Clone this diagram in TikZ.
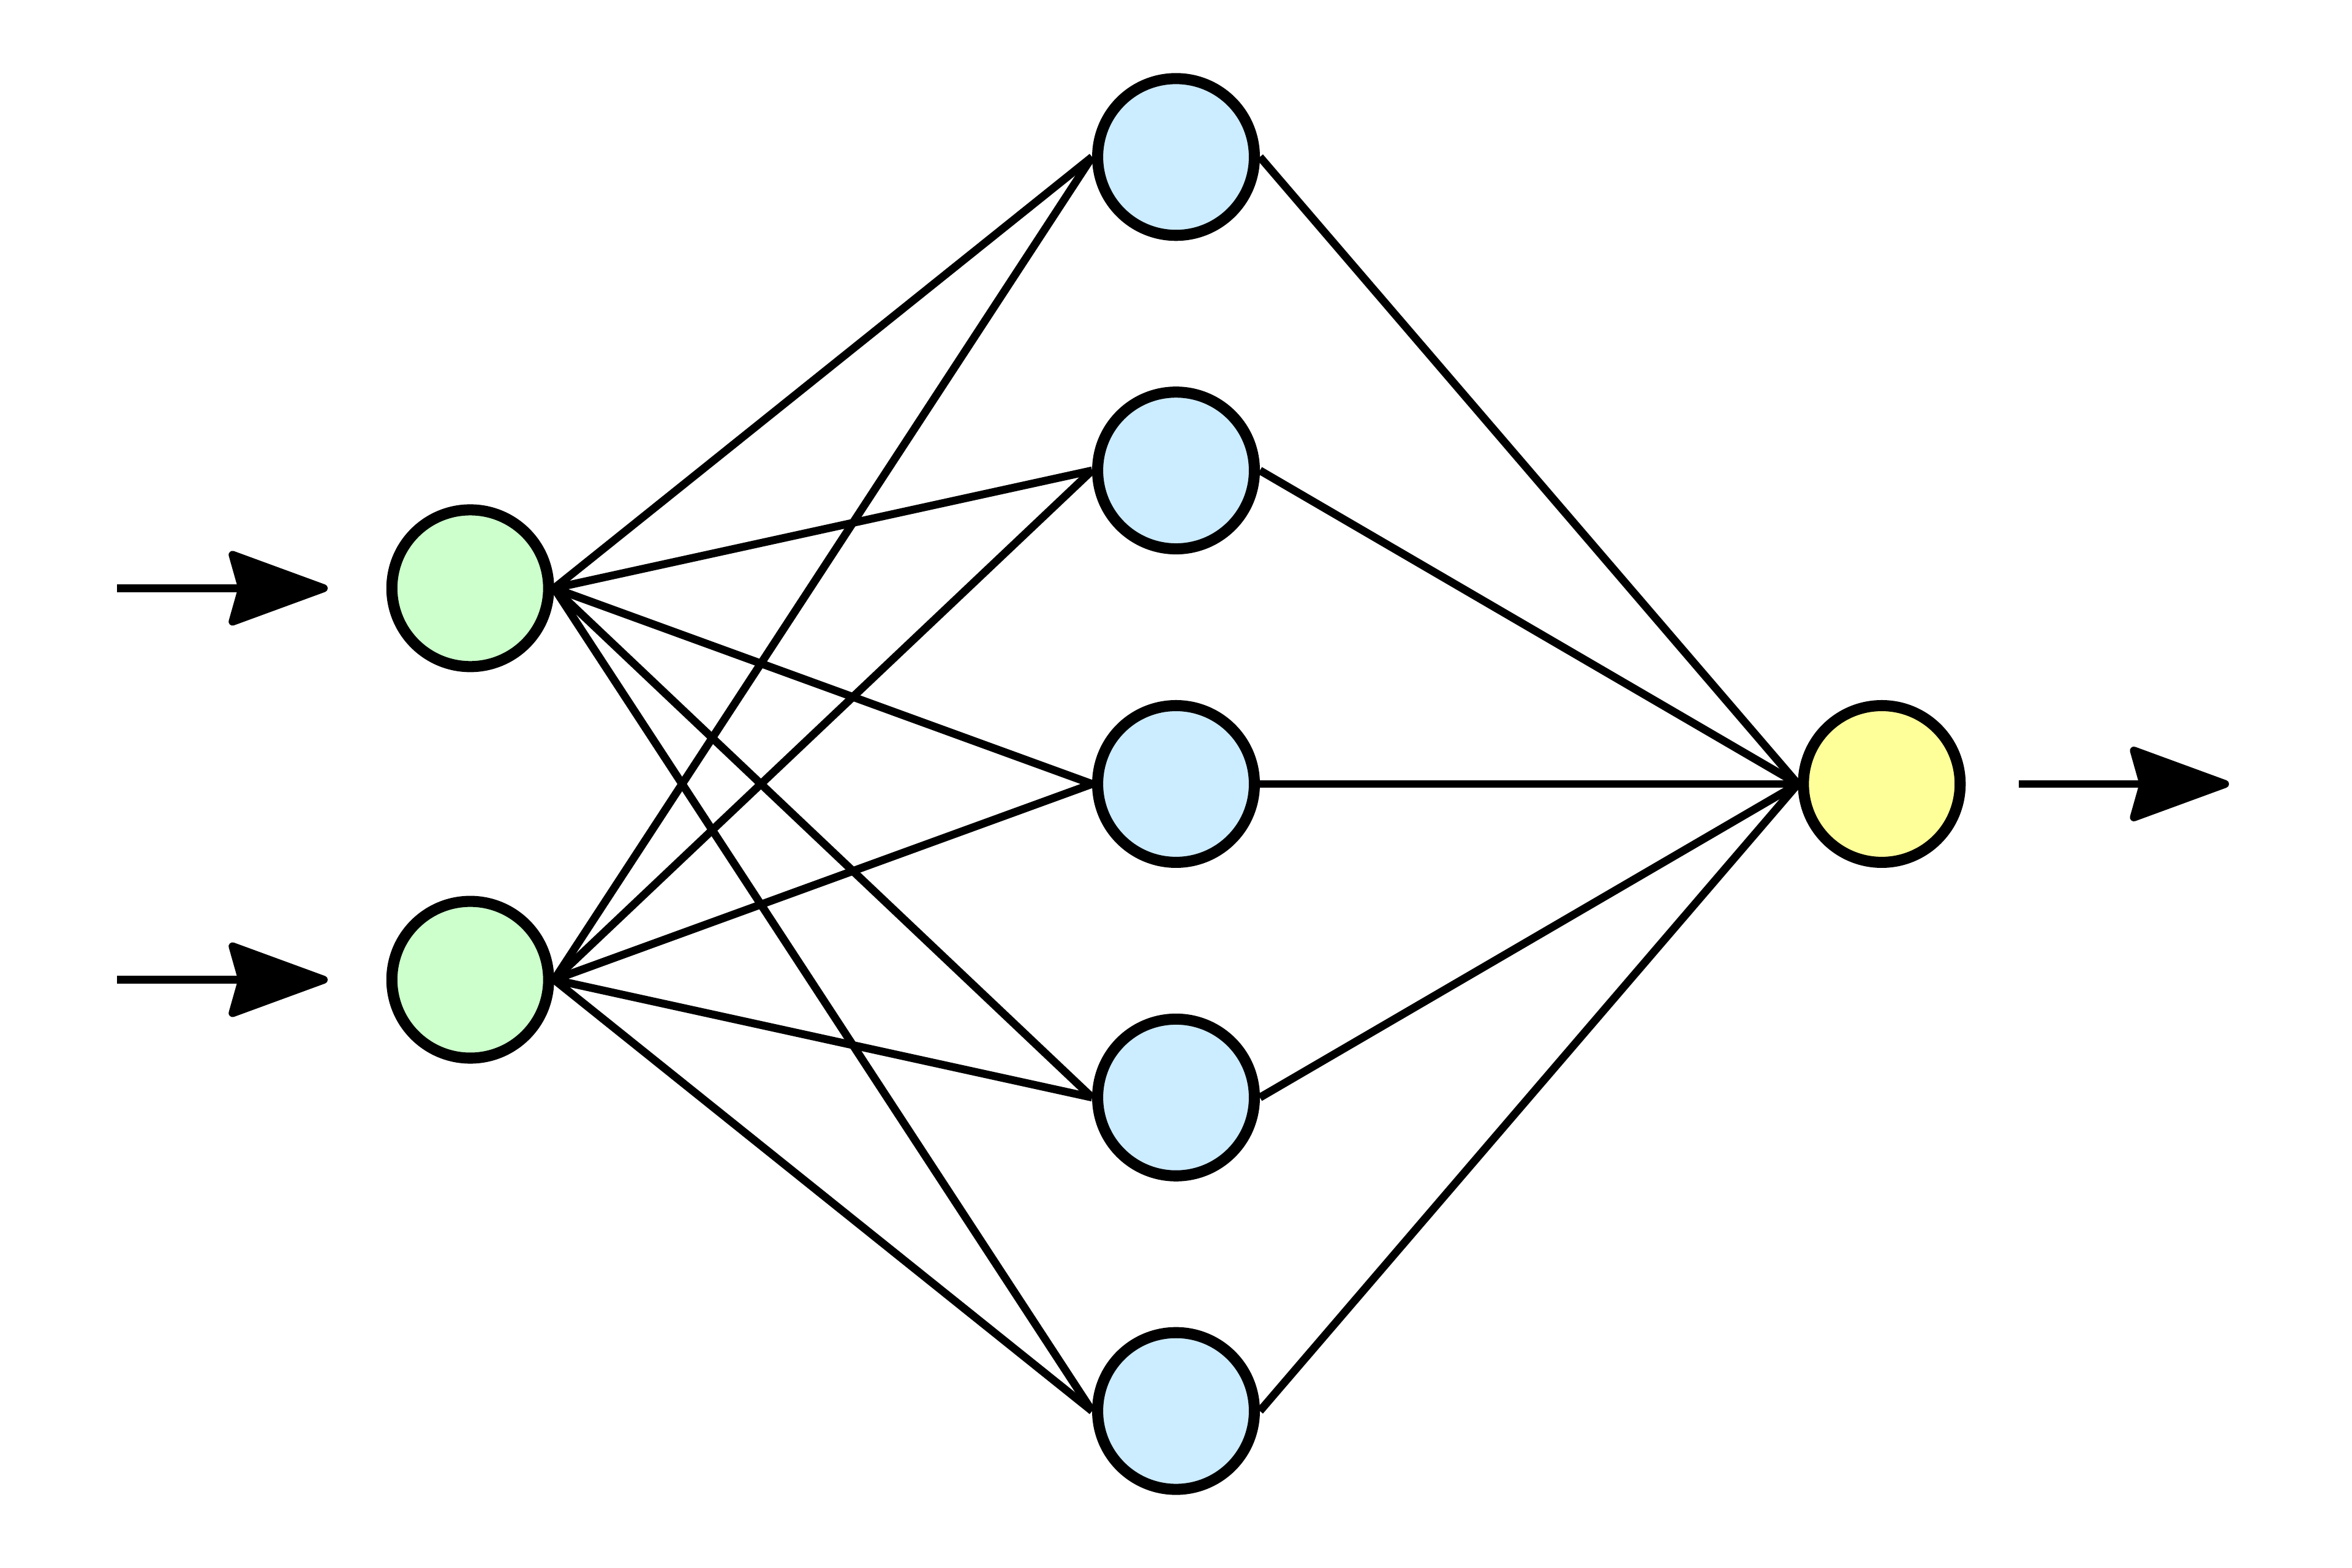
\documentclass[tikz,border=0pt]{standalone}
\usepackage{tikz}
\usetikzlibrary{arrows.meta, positioning}
\definecolor{ingreen}{HTML}{CCFFCC}
\definecolor{hidblue}{HTML}{CCECFF}
\definecolor{outyellow}{HTML}{FFFF99}
\tikzset{
neuron/.style={circle, draw=black, line width=2.1pt, minimum size=1.045cm, inner sep=0pt}, % every unit of the net
input/.style={neuron, fill=ingreen},
hidden/.style={neuron, fill=hidblue},
output/.style={neuron, fill=outyellow},
link/.style={line width=1.5pt}, % the weights between units
signal/.style={line width=1.5pt, -{Stealth[length=0.72cm, width=0.52cm, inset=0.07cm, round]}},
}
\begin{document}
\begin{tikzpicture}[node distance=2.09cm]
            \useasboundingbox (0,-5.2266) rectangle (15.68,5.2266);

            \node[input] (x1) at (3.135,1.305) {};
            \node[input] (x2) at (3.135,-1.305) {};
            \node[hidden] (h3) at (7.84,0) {};
            \node[hidden, above of=h3] (h2) {};
            \node[hidden, above of=h2] (h1) {};
            \node[hidden, below of=h3] (h4) {};
            \node[hidden, below of=h4] (h5) {};
            \node[output] (y) at (12.545,0) {};

            \coordinate (x1a) at (0.78,1.305);
            \coordinate (x1b) at (2.185,1.305);
            \coordinate (x2a) at (0.78,-1.305);
            \coordinate (x2b) at (2.185,-1.305);
            \coordinate (ya) at (13.46,0);
            \coordinate (yb) at (14.86,0);

            \draw[signal] (x1a) -- (x1b);
            \draw[signal] (x2a) -- (x2b);
            \draw[signal] (ya) -- (yb);

            \draw[link] (x1.east) edge (h1.west)
                    (x1.east) edge (h2.west)
                    (x1.east) edge (h3.west)
                    (x1.east) edge (h4.west)
                    (x1.east) edge (h5.west)
                    (x2.east) edge (h1.west)
                    (x2.east) edge (h2.west)
                    (x2.east) edge (h3.west)
                    (x2.east) edge (h4.west)
                    (x2.east) edge (h5.west)
                    (h1.east) edge (y.west)
                    (h2.east) edge (y.west)
                    (h3.east) edge (y.west)
                    (h4.east) edge (y.west)
                    (h5.east) edge (y.west)
                    ;
        \end{tikzpicture}
\end{document}
